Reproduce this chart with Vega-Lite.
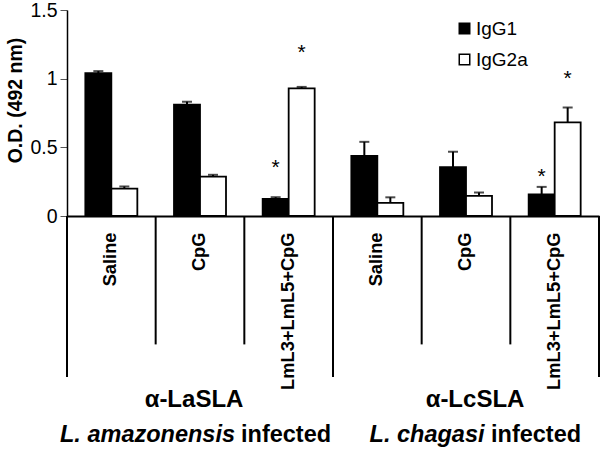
{
  "$schema": "https://vega.github.io/schema/vega-lite/v6.json",
  "autosize": "none",
  "width": 532,
  "height": 206,
  "padding": {"left": 67, "top": 10, "right": 1, "bottom": 235},
  "background": "white",
  "config": {
    "view": {"stroke": null},
    "font": "Liberation Sans",
    "axis": {"grid": false}
  },
  "datasets": {
    "bars": [
      {"group": "La|Saline", "iso": "IgG1", "v": 1.04, "e": 1.055},
      {"group": "La|Saline", "iso": "IgG2a", "v": 0.2, "e": 0.215},
      {"group": "La|CpG", "iso": "IgG1", "v": 0.81, "e": 0.832},
      {"group": "La|CpG", "iso": "IgG2a", "v": 0.286, "e": 0.3},
      {"group": "La|LmL3+LmL5+CpG", "iso": "IgG1", "v": 0.125, "e": 0.137},
      {"group": "La|LmL3+LmL5+CpG", "iso": "IgG2a", "v": 0.93, "e": 0.94},
      {"group": "Lc|Saline", "iso": "IgG1", "v": 0.437, "e": 0.54},
      {"group": "Lc|Saline", "iso": "IgG2a", "v": 0.095, "e": 0.136},
      {"group": "Lc|CpG", "iso": "IgG1", "v": 0.355, "e": 0.468},
      {"group": "Lc|CpG", "iso": "IgG2a", "v": 0.147, "e": 0.171},
      {"group": "Lc|LmL3+LmL5+CpG", "iso": "IgG1", "v": 0.158, "e": 0.212},
      {"group": "Lc|LmL3+LmL5+CpG", "iso": "IgG2a", "v": 0.682, "e": 0.79}
    ],
    "stars": [
      {"group": "La|LmL3+LmL5+CpG", "iso": "IgG1", "s": 0.395},
      {"group": "La|LmL3+LmL5+CpG", "iso": "IgG2a", "s": 1.233},
      {"group": "Lc|LmL3+LmL5+CpG", "iso": "IgG1", "s": 0.328},
      {"group": "Lc|LmL3+LmL5+CpG", "iso": "IgG2a", "s": 1.04}
    ]
  },
  "encoding": {
    "x": {
      "field": "group",
      "type": "nominal",
      "sort": null,
      "scale": {
        "domain": ["La|Saline", "La|CpG", "La|LmL3+LmL5+CpG", "Lc|Saline", "Lc|CpG", "Lc|LmL3+LmL5+CpG"],
        "paddingInner": 0,
        "paddingOuter": 0
      },
      "axis": {
        "title": null,
        "ticks": false,
        "domain": true,
        "domainColor": "black",
        "domainWidth": 2,
        "labelAngle": 270,
        "labelAlign": "right",
        "labelBaseline": "middle",
        "labelFontSize": 18.3,
        "labelFontWeight": "bold",
        "labelColor": "black",
        "labelPadding": 16,
        "labelLimit": 0,
        "labelOverlap": false,
        "labelExpr": "split(datum.value, '|')[1]"
      }
    }
  },
  "layer": [
    {
      "data": {"name": "bars"},
      "mark": {"type": "bar", "stroke": "black", "strokeWidth": 1.8},
      "encoding": {
        "xOffset": {"field": "iso", "type": "nominal", "scale": {"domain": ["IgG1", "IgG2a"], "paddingInner": 0, "paddingOuter": 0.705}},
        "y": {
          "field": "v",
          "type": "quantitative",
          "scale": {"domain": [0, 1.5], "nice": false, "zero": false},
          "axis": {
            "values": [0, 0.5, 1, 1.5],
            "format": "~g",
            "labelFontSize": 19.5,
            "labelColor": "black",
            "labelPadding": 3,
            "tickSize": 7,
            "tickColor": "#555555",
            "domainColor": "black",
            "domainWidth": 1.5,
            "title": "O.D. (492 nm)",
            "titleFontSize": 19.5,
            "titleFontWeight": "bold",
            "titleColor": "black",
            "titleAngle": 270,
            "titleAlign": "center",
            "titleBaseline": "middle",
            "titleX": -52,
            "titleY": 90
          }
        },
        "fill": {
          "field": "iso",
          "type": "nominal",
          "scale": {"domain": ["IgG1", "IgG2a"], "range": ["black", "white"]},
          "legend": {
            "orient": "none",
            "legendX": 388,
            "legendY": 9,
            "title": null,
            "symbolType": "square",
            "symbolSize": 110,
            "symbolStrokeColor": "black",
            "symbolStrokeWidth": 1.5,
            "labelFontSize": 19,
            "labelColor": "black",
            "labelOffset": 2,
            "rowPadding": 11
          }
        }
      }
    },
    {
      "data": {"name": "bars"},
      "mark": {"type": "rule", "strokeWidth": 2, "color": "black"},
      "encoding": {
        "xOffset": {"field": "iso", "type": "nominal"},
        "y": {"field": "v", "type": "quantitative"},
        "y2": {"field": "e"}
      }
    },
    {
      "data": {"name": "bars"},
      "mark": {"type": "tick", "size": 10, "thickness": 2, "color": "black", "orient": "horizontal"},
      "encoding": {
        "xOffset": {"field": "iso", "type": "nominal"},
        "y": {"field": "e", "type": "quantitative"}
      }
    },
    {
      "data": {"name": "stars"},
      "mark": {"type": "text", "text": "*", "fontSize": 21, "baseline": "alphabetic", "dy": 12, "color": "black", "font": "Liberation Sans"},
      "encoding": {
        "xOffset": {"field": "iso", "type": "nominal"},
        "y": {"field": "s", "type": "quantitative"}
      }
    },
    {
      "data": {"values": [{"group": "La|CpG"}, {"group": "La|LmL3+LmL5+CpG"}, {"group": "Lc|CpG"}, {"group": "Lc|LmL3+LmL5+CpG"}]},
      "mark": {"type": "rule", "strokeWidth": 2, "color": "black"},
      "encoding": {
        "x": {"field": "group", "type": "nominal", "bandPosition": 0},
        "y": {"datum": 0, "type": "quantitative"},
        "y2": {"datum": -0.935}
      }
    },
    {
      "data": {"values": [{"group": "La|Saline"}, {"group": "Lc|Saline"}]},
      "mark": {"type": "rule", "strokeWidth": 2, "color": "black"},
      "encoding": {
        "x": {"field": "group", "type": "nominal", "bandPosition": 0},
        "y": {"datum": 0, "type": "quantitative"},
        "y2": {"datum": -1.173}
      }
    },
    {
      "data": {"values": [{"group": "Lc|LmL3+LmL5+CpG"}]},
      "mark": {"type": "rule", "strokeWidth": 2, "color": "black"},
      "encoding": {
        "x": {"field": "group", "type": "nominal", "bandPosition": 1},
        "y": {"datum": 0, "type": "quantitative"},
        "y2": {"datum": -1.173}
      }
    },
    {
      "data": {"values": [{"group": "La|CpG", "t": "α-LaSLA"}]},
      "mark": {"type": "text", "fontSize": 24, "fontWeight": "bold", "align": "center", "baseline": "alphabetic", "dx": -6, "color": "black", "font": "Liberation Sans"},
      "encoding": {
        "text": {"field": "t"},
        "y": {"datum": -1.391, "type": "quantitative"}
      }
    },
    {
      "data": {"values": [{"group": "Lc|CpG", "t": "α-LcSLA"}]},
      "mark": {"type": "text", "fontSize": 24, "fontWeight": "bold", "align": "center", "baseline": "alphabetic", "dx": 9, "color": "black", "font": "Liberation Sans"},
      "encoding": {
        "text": {"field": "t"},
        "y": {"datum": -1.391, "type": "quantitative"}
      }
    },
    {
      "data": {"values": [{"group": "La|CpG", "t": "L. amazonensis"}]},
      "mark": {"type": "text", "fontSize": 23.5, "fontWeight": "bold", "fontStyle": "italic", "align": "right", "baseline": "alphabetic", "dx": 35, "color": "black", "font": "Liberation Sans"},
      "encoding": {
        "text": {"field": "t"},
        "y": {"datum": -1.646, "type": "quantitative"}
      }
    },
    {
      "data": {"values": [{"group": "La|CpG", "t": "infected"}]},
      "mark": {"type": "text", "fontSize": 23.5, "fontWeight": "bold", "align": "left", "baseline": "alphabetic", "dx": 41, "color": "black", "font": "Liberation Sans"},
      "encoding": {
        "text": {"field": "t"},
        "y": {"datum": -1.646, "type": "quantitative"}
      }
    },
    {
      "data": {"values": [{"group": "Lc|CpG", "t": "L. chagasi"}]},
      "mark": {"type": "text", "fontSize": 23.5, "fontWeight": "bold", "fontStyle": "italic", "align": "right", "baseline": "alphabetic", "dx": 18.5, "color": "black", "font": "Liberation Sans"},
      "encoding": {
        "text": {"field": "t"},
        "y": {"datum": -1.646, "type": "quantitative"}
      }
    },
    {
      "data": {"values": [{"group": "Lc|CpG", "t": "infected"}]},
      "mark": {"type": "text", "fontSize": 23.5, "fontWeight": "bold", "align": "left", "baseline": "alphabetic", "dx": 25, "color": "black", "font": "Liberation Sans"},
      "encoding": {
        "text": {"field": "t"},
        "y": {"datum": -1.646, "type": "quantitative"}
      }
    }
  ]
}
